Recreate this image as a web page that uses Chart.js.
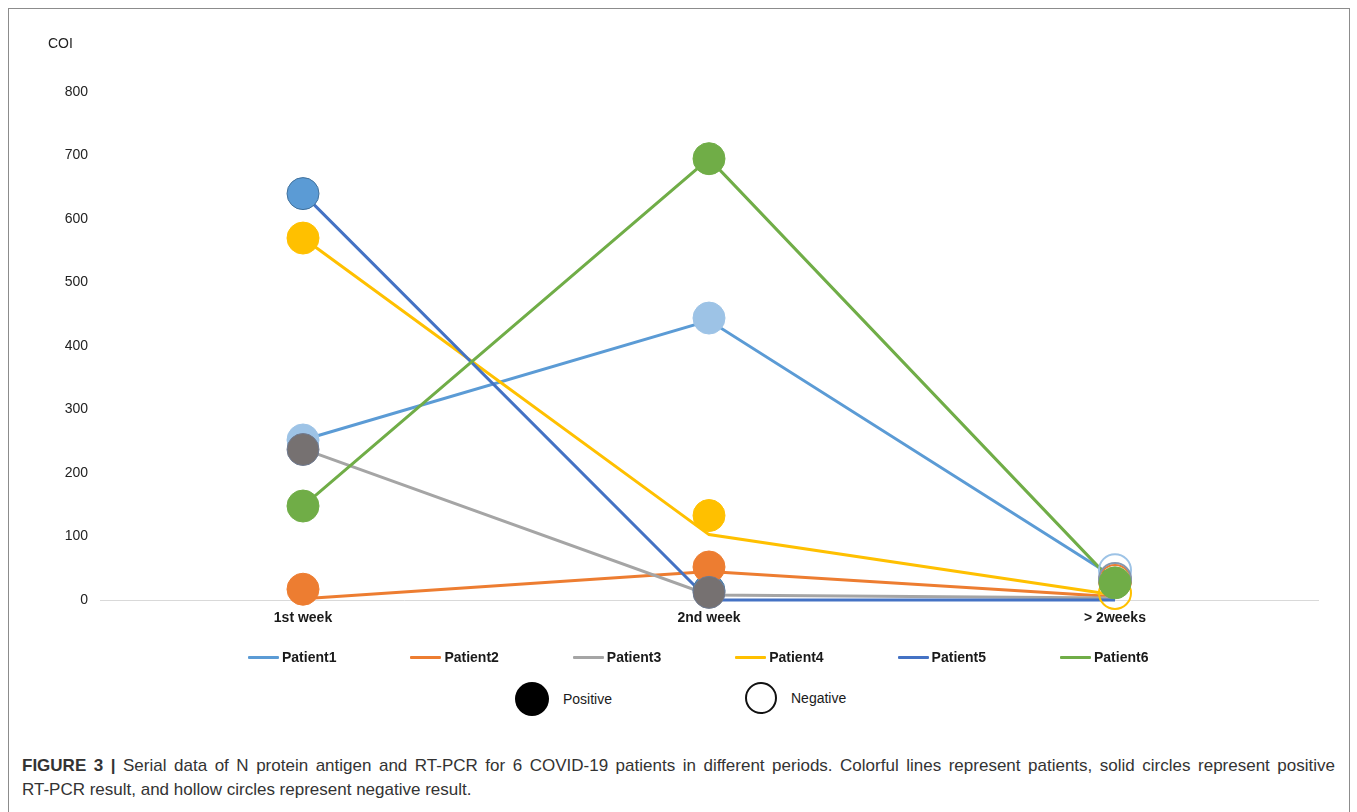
<!DOCTYPE html>
<html><head><meta charset="utf-8">
<script src="https://cdn.jsdelivr.net/npm/chart.js@4.4.0/dist/chart.umd.min.js"></script>
<style>
html,body{margin:0;padding:0;background:#fff;width:1357px;height:812px;overflow:hidden;font-family:"Liberation Sans",Arial,sans-serif;}
#frame{position:absolute;left:8px;top:8px;width:1342px;height:830px;border:1px solid #8c8c8c;border-bottom:none;box-sizing:border-box;}
#wrap{position:absolute;left:0;top:0;width:1357px;height:660px;}
.coi{position:absolute;left:48px;top:35px;font-size:14px;color:#222;}
.leg{position:absolute;top:648px;height:18px;display:flex;align-items:center;font-family:"Liberation Sans",Arial,sans-serif;font-weight:bold;font-size:14px;color:#1a1a1a;}
.leg span.l{display:inline-block;width:31px;height:3px;margin-right:3px;border-radius:1px;}
.sym{position:absolute;top:682px;display:flex;align-items:center;font-size:14px;color:#1a1a1a;}
.sym .c{display:inline-block;width:32px;height:32px;border-radius:50%;box-sizing:border-box;margin-right:14px;}
#cap{position:absolute;left:22px;top:754px;width:1313px;font-size:17px;line-height:24px;color:#333;white-space:nowrap;}
#cap .l1{text-align:justify;text-align-last:justify;}
</style></head>
<body>
<div id="frame"></div>
<div id="wrap"><canvas id="c" width="1357" height="660"></canvas></div>
<div class="coi">COI</div>
<div id="legend"></div>
<div class="sym" style="left:515px;"><span class="c" style="background:#000;width:34px;height:34px;"></span>Positive</div>
<div class="sym" style="left:745px;"><span class="c" style="border:2.5px solid #111;"></span>Negative</div>
<div id="cap"><div class="l1"><b>FIGURE 3 |</b> Serial data of N protein antigen and RT-PCR for 6 COVID-19 patients in different periods. Colorful lines represent patients, solid circles represent positive</div><div>RT-PCR result, and hollow circles represent negative result.</div></div>
<script>
const categories = ['1st week', '2nd week', '> 2weeks'];
const patients = ['Patient1', 'Patient2', 'Patient3', 'Patient4', 'Patient5', 'Patient6'];
const yTicks = [0, 100, 200, 300, 400, 500, 600, 700, 800];

// line values (COI)
const line1 = [252, 440, 35];
const line2 = [2, 45, 5];
const line3 = [238, 8, 3];
const line4 = [570, 103, 8];
const line5 = [640, 0, 0];
const line6 = [148, 695, 25];

// circle marker values (COI); null = no marker
const mark1 = [252, 444, 47];
const mark2 = [17, 52, 30];
const mark3 = [237, 12, 33];
const mark4 = [570, 133, 11];
const mark5 = [640, 15, null];
const mark6 = [148, 695, 27];

// RT-PCR result per period: 1 = positive (solid), 0 = negative (hollow)
const pcr1 = [1, 1, 0];
const pcr2 = [1, 1, 0];
const pcr3 = [1, 1, 0];
const pcr4 = [1, 1, 0];
const pcr5 = [1, 1, 0];
const pcr6 = [1, 1, 1];

const lineColors = ['#5B9BD5', '#ED7D31', '#A5A5A5', '#FFC000', '#4472C4', '#70AD47'];
const markFill = ['#9DC3E6', '#ED7D31', '#767171', '#FFC000', '#5B9BD5', '#70AD47'];
const markEdge = ['#9DC3E6', '#ED7D31', '#6F7A90', '#FFC000', '#41719C', '#70AD47'];
const hollowEdge = ['#9DC3E6', '#ED7D31', '#8497B0', '#FFC000', '#4472C4', '#70AD47'];
const markOrder = [6, 4, 2, 3, 5, 1];

const lines = [line1, line2, line3, line4, line5, line6];
const marks = [mark1, mark2, mark3, mark4, mark5, mark6];
const pcrs = [pcr1, pcr2, pcr3, pcr4, pcr5, pcr6];

const datasets = [];
lines.forEach((d, i) => {
  datasets.push({
    label: patients[i], data: d, borderColor: lineColors[i], borderWidth: 3,
    pointRadius: 0, tension: 0, fill: false, order: 106 - i, clip: false
  });
});
marks.forEach((d, i) => {
  const p = pcrs[i];
  datasets.push({
    label: patients[i] + ' RT-PCR', data: d, showLine: false,
    pointRadius: 16, pointHoverRadius: 16,
    pointBackgroundColor: p.map(v => v ? markFill[i] : 'rgba(0,0,0,0)'),
    pointBorderColor: p.map(v => v ? markEdge[i] : hollowEdge[i]),
    pointBorderWidth: p.map(v => v ? 1 : 2),
    order: markOrder[i], clip: false
  });
});

// legend
const leg = document.getElementById('legend');
patients.forEach((n, i) => {
  const el = document.createElement('div');
  el.className = 'leg';
  el.style.left = (248 + i * 162.4) + 'px';
  el.innerHTML = '<span class="l" style="background:' + lineColors[i] + '"></span>' + n;
  leg.appendChild(el);
});

new Chart(document.getElementById('c'), {
  type: 'line',
  data: { labels: categories, datasets },
  options: {
    responsive: false, animation: false,
    layout: { padding: { left: 0, right: 39, top: 92, bottom: 0 } },
    plugins: { legend: { display: false }, tooltip: { enabled: false } },
    scales: {
      x: {
        offset: true,
        grid: { display: false, drawTicks: false },
        border: { display: true, color: '#D9D9D9', width: 1 },
        ticks: { padding: 10, color: '#1a1a1a', font: { family: 'Liberation Sans', size: 14, weight: 'bold' } },
        afterFit: s => { s.height = 60; }
      },
      y: {
        min: 0, max: 800,
        afterBuildTicks: s => { s.ticks = yTicks.map(v => ({ value: v })); },
        grid: { display: false, drawTicks: false },
        border: { display: false },
        ticks: { padding: 12, color: '#222', font: { family: 'Liberation Sans', size: 14 } },
        afterFit: s => { s.width = 100; }
      }
    }
  }
});
</script>
</body></html>
